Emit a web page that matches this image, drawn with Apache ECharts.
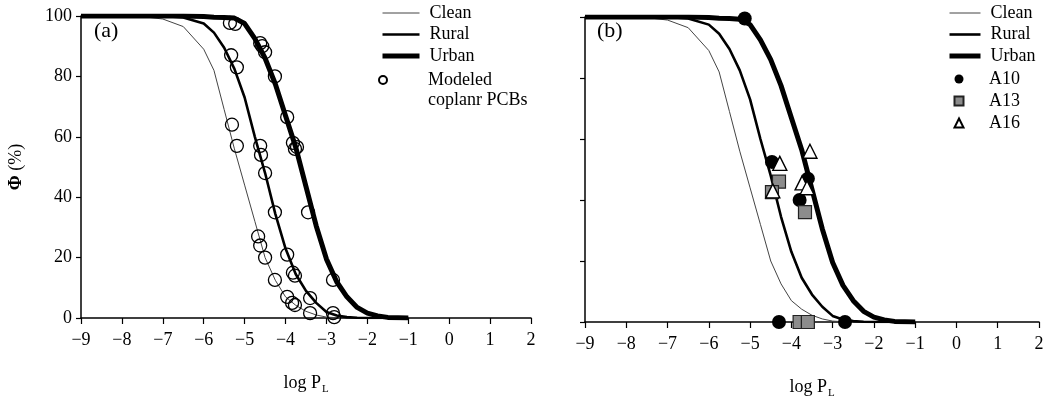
<!DOCTYPE html>
<html>
<head>
<meta charset="utf-8">
<script src="https://cdn.jsdelivr.net/npm/echarts@6/dist/echarts.min.js"></script>
<style>
  html, body { margin: 0; padding: 0; background: #fff; }
  #chart { width: 1051px; height: 401px; }
</style>
</head>
<body>
<div id="chart"></div>
<script>
// curves, same in both panels
var curveX = [-9, -8, -7.5, -7, -6.5, -6, -5.75, -5.5, -5.25, -5, -4.75, -4.5, -4.25, -4, -3.75, -3.5, -3.25, -3, -2.75, -2.5, -2.25, -2, -1.75, -1.5, -1];
var cleanY = [100, 100, 99.8, 99, 96.5, 89, 82, 69, 56, 44, 32, 20, 12.5, 7, 4.2, 2.2, 1, 0.3, 0.1, 0, 0, 0, 0, 0, 0];
var ruralY = [100, 100, 100, 100, 99.5, 97.5, 94.5, 89.5, 82.5, 73, 60, 48, 34.5, 23, 14.5, 9, 5, 2, 0.8, 0.3, 0.1, 0, 0, 0, 0];
var urbanY = [100, 100, 100, 100, 100, 99.8, 99.6, 99.5, 99.3, 97.5, 92.5, 86, 77.5, 67, 56.5, 43.5, 30.5, 19.5, 12, 7, 3.5, 1.6, 0.7, 0.2, 0];

// panel (a) modeled coplanar PCBs
var modeledX = [-5.36, -5.23, -5.33, -5.19, -5.31, -5.19, -4.62, -4.57, -4.50, -4.26, -3.96, -3.82, -3.77, -3.72, -4.62, -4.60, -4.50, -4.26, -3.45, -4.67, -4.62, -4.50, -3.96, -3.82, -3.77, -4.26, -2.84, -3.96, -3.84, -3.77, -3.40, -3.40, -2.84, -2.81];
var modeledY = [97.7, 97.4, 87, 83, 64, 57, 91, 90, 88, 80, 66.5, 58, 56, 56.6, 57, 54, 48, 35, 35, 27, 24, 20, 21, 15, 14, 12.6, 12.6, 7, 5, 4.3, 6.6, 1.6, 1.6, 0.3];

// panel (b) measured samples
var a10X = [-5.13, -4.47, -3.6, -3.8, -4.3, -2.7];
var a10Y = [99.5, 52.5, 47, 40, 0, 0];
var a13X = [-4.30, -4.47, -3.67, -3.8, -3.6];
var a13Y = [46, 42.6, 36, 0, 0];
var a16X = [-4.28, -4.45, -3.55, -3.74, -3.62];
var a16Y = [52, 43, 56, 45.6, 44];

var xTicks = { min: -9, max: 2, interval: 1 };
var yTicks = { min: 0, max: 100, interval: 20 };

var FONT = '"Liberation Serif", "Times New Roman", serif';

var lineLook = {
    Clean: { color: '#444', width: 1 },
    Rural: { color: '#000', width: 2.6 },
    Urban: { color: '#000', width: 5 }
};

function pairs(xs, ys) {
    return xs.map(function (x, i) { return [x, ys[i]]; });
}
function minus(v) {
    return String(v).replace('-', '\u2212');
}

function makeX(idx) {
    return {
        type: 'value',
        gridIndex: idx,
        min: xTicks.min, max: xTicks.max, interval: xTicks.interval,
        name: '{a|log P}{s|L}',
        nameLocation: 'middle',
        nameGap: 54,
        nameTextStyle: {
            rich: {
                a: { fontFamily: FONT, fontSize: 18, color: '#000' },
                s: { fontFamily: FONT, fontSize: 11, color: '#000', padding: [12, 0, 0, 1] }
            }
        },
        axisLine: { onZero: false, lineStyle: { color: '#000', width: 1.5 } },
        axisTick: { length: 6, lineStyle: { color: '#000', width: 1.2 } },
        axisLabel: { margin: 13, color: '#000', fontFamily: FONT, fontSize: 18, formatter: minus },
        splitLine: { show: false }
    };
}
function makeY(idx, labels) {
    var ax = {
        type: 'value',
        gridIndex: idx,
        min: yTicks.min, max: yTicks.max, interval: yTicks.interval,
        axisLine: { show: true, onZero: false, lineStyle: { color: '#000', width: 1.5 } },
        axisTick: { show: true, length: 5, lineStyle: { color: '#000', width: 1.2 } },
        axisLabel: { show: labels, margin: 9, color: '#000', fontFamily: FONT, fontSize: 18 },
        splitLine: { show: false }
    };
    if (labels) {
        ax.name = '{p|\u03A6} (%)';
        ax.nameLocation = 'middle';
        ax.nameGap = 56;
        ax.nameTextStyle = {
            fontFamily: FONT, fontSize: 18, color: '#000',
            rich: { p: { fontFamily: FONT, fontSize: 18, fontWeight: 'bold', color: '#000' } }
        };
    }
    return ax;
}

function curves(idx) {
    return [
        { name: 'Clean', data: pairs(curveX, cleanY) },
        { name: 'Rural', data: pairs(curveX, ruralY) },
        { name: 'Urban', data: pairs(curveX, urbanY) }
    ].map(function (c) {
        var look = lineLook[c.name];
        return {
            name: c.name, type: 'line', xAxisIndex: idx, yAxisIndex: idx,
            data: c.data, symbol: 'none', smooth: false,
            lineStyle: { color: look.color, width: look.width },
            itemStyle: { color: look.color },
            z: 2
        };
    });
}

function lineLegendData() {
    return ['Clean', 'Rural', 'Urban'].map(function (n) {
        return { name: n, lineStyle: { color: lineLook[n].color, width: lineLook[n].width } };
    });
}

var legendText = { fontFamily: FONT, fontSize: 18, lineHeight: 20, color: '#000' };

var option = {
    backgroundColor: '#fff',
    animation: false,
    grid: [
        { left: 81, top: 16, width: 450, height: 302, outerBoundsMode: 'none' },
        { left: 585, top: 17, width: 454, height: 305, outerBoundsMode: 'none' }
    ],
    xAxis: [makeX(0), makeX(1)],
    yAxis: [makeY(0, true), makeY(1, false)],
    legend: [
        {
            data: lineLegendData(), orient: 'vertical', left: 380, top: 3,
            itemWidth: 37, itemHeight: 14, itemGap: 1.5, padding: 0, selectedMode: false,
            itemStyle: { opacity: 0 },
            textStyle: Object.assign({ padding: [0, 0, 0, 5] }, legendText)
        },
        {
            data: ['Modeled coplanr PCBs'], orient: 'vertical', left: 378, top: 50,
            itemWidth: 8, itemHeight: 8, padding: 0, selectedMode: false,
            formatter: function (n) { return '\n' + n.replace(' coplanr', '\ncoplanr'); },
            textStyle: Object.assign({ padding: [0, 0, 0, 36] }, legendText)
        },
        {
            data: lineLegendData(), orient: 'vertical', left: 947, top: 3,
            itemWidth: 31, itemHeight: 14, itemGap: 1.5, padding: 0, selectedMode: false,
            itemStyle: { opacity: 0 },
            textStyle: Object.assign({ padding: [0, 0, 0, 5] }, legendText)
        },
        {
            data: ['A10', 'A13', 'A16'], orient: 'vertical', left: 953.5, top: 69,
            itemWidth: 9, itemHeight: 9, itemGap: 2, padding: 0, selectedMode: false,
            textStyle: Object.assign({ padding: [0, 0, 0, 20.5] }, legendText)
        }
    ],
    graphic: [
        { type: 'text', left: 94, top: 20, style: { text: '(a)', font: '22px ' + FONT, fill: '#000' } },
        { type: 'text', left: 597, top: 20, style: { text: '(b)', font: '22px ' + FONT, fill: '#000' } }
    ],
    series: curves(0).concat([
        {
            name: 'Modeled coplanr PCBs', type: 'scatter', xAxisIndex: 0, yAxisIndex: 0,
            data: pairs(modeledX, modeledY), symbol: 'circle', symbolSize: 13,
            itemStyle: { color: 'rgba(0,0,0,0)', borderColor: '#000', borderWidth: 1.3, opacity: 1 },
            z: 3
        }
    ]).concat(curves(1)).concat([
        {
            name: 'A10', type: 'scatter', xAxisIndex: 1, yAxisIndex: 1,
            data: pairs(a10X, a10Y), symbol: 'circle', symbolSize: 14,
            itemStyle: { color: '#000', opacity: 1 }, z: 3
        },
        {
            name: 'A13', type: 'scatter', xAxisIndex: 1, yAxisIndex: 1,
            data: pairs(a13X, a13Y), symbol: 'rect', symbolSize: 13,
            itemStyle: { color: '#8c8c8c', borderColor: '#222', borderWidth: 1.2, opacity: 1 }, z: 4
        },
        {
            name: 'A16', type: 'scatter', xAxisIndex: 1, yAxisIndex: 1,
            data: pairs(a16X, a16Y), symbol: 'triangle', symbolSize: 14,
            itemStyle: { color: '#fff', borderColor: '#000', borderWidth: 1.4, opacity: 1 }, z: 5
        }
    ])
};

var chart = echarts.init(document.getElementById('chart'));
chart.setOption(option);
</script>
</body>
</html>
